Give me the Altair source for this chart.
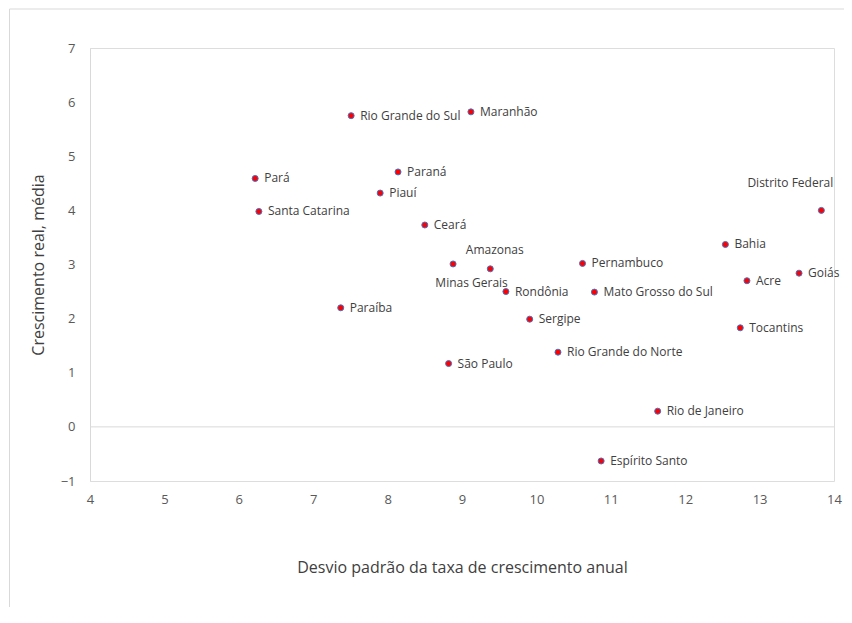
import altair as alt
import pandas as pd

estados = [
    "Rio Grande do Sul", "Maranhão", "Pará", "Paraná", "Piauí", "Santa Catarina",
    "Ceará", "Minas Gerais", "Amazonas", "Rondônia", "Paraíba", "Sergipe",
    "Bahia", "Pernambuco", "Goiás", "Acre", "Mato Grosso do Sul", "Tocantins",
    "Rio Grande do Norte", "São Paulo", "Rio de Janeiro", "Espírito Santo",
    "Distrito Federal",
]
desvio = [
    7.51, 9.12, 6.22, 8.14, 7.90, 6.27,
    8.50, 8.88, 9.38, 9.59, 7.37, 9.91,
    12.54, 10.62, 13.53, 12.83, 10.78, 12.74,
    10.29, 8.82, 11.63, 10.87,
    13.83,
]
crescimento = [
    5.75, 5.82, 4.59, 4.71, 4.32, 3.98,
    3.73, 3.01, 2.92, 2.50, 2.20, 1.99,
    3.37, 3.02, 2.84, 2.70, 2.49, 1.83,
    1.38, 1.17, 0.29, -0.63,
    4.00,
]
x_ticks = [4, 5, 6, 7, 8, 9, 10, 11, 12, 13, 14]
y_ticks = [-1, 0, 1, 2, 3, 4, 5, 6, 7]

df = pd.DataFrame({"estado": estados, "desvio": desvio, "crescimento": crescimento})

W, H = 744, 433
PAD_L = 82
FONT = "Segoe UI, Open Sans, Noto Sans, sans-serif"
GRID = "#d9d9d9"

x_enc = alt.X("desvio:Q", scale=alt.Scale(domain=[4, 14], nice=False, zero=False),
              axis=alt.Axis(values=x_ticks, title="Desvio padrão da taxa de crescimento anual",
                            domain=False, ticks=False, grid=False, labelPadding=12,
                            labelFlush=False,
                            labelFontSize=13, labelColor="#595959", labelFont=FONT,
                            titleFont=FONT, titleFontSize=16, titleFontWeight="normal",
                            titleColor="#404040", titleX=W / 2, titleY=86,
                            titleBaseline="middle", titleAlign="center"))
y_enc = alt.Y("crescimento:Q", scale=alt.Scale(domain=[-1, 7], nice=False, zero=False),
              axis=alt.Axis(values=y_ticks, title="Crescimento real, média",
                            domain=True, domainColor=GRID, domainWidth=1,
                            ticks=False, grid=False, labelPadding=15,
                            labelFlush=False,
                            labelFontSize=13, labelColor="#595959", labelFont=FONT,
                            titleFont=FONT, titleFontSize=16, titleFontWeight="normal",
                            titleColor="#404040", titleX=-52, titleY=H / 2,
                            titleAngle=-90, titleBaseline="middle", titleAlign="center"))

base = alt.Chart(df)

zero_line = alt.Chart(pd.DataFrame({"y": [0]})).mark_rule(color=GRID, strokeWidth=1).encode(
    y=alt.Y("y:Q", scale=alt.Scale(domain=[-1, 7], nice=False, zero=False)),
    x=alt.value(0), x2=alt.value(W),
)

border_top = alt.Chart(pd.DataFrame({"a": [0]})).mark_rule(color=GRID, strokeWidth=1).encode(
    x=alt.value(-PAD_L + 1.5), x2=alt.value(W + 30), y=alt.value(-39)
)
border_left = alt.Chart(pd.DataFrame({"a": [0]})).mark_rule(color=GRID, strokeWidth=1).encode(
    x=alt.value(-PAD_L + 1.5), y=alt.value(-39), y2=alt.value(H + 160)
)

points = base.mark_point(filled=True, shape="circle", size=36, fill="#ff0000",
                         stroke="#4472c4", strokeWidth=1, opacity=1).encode(x=x_enc, y=y_enc)

special = ["Amazonas", "Minas Gerais", "Distrito Federal"]
txt_kw = dict(font=FONT, fontSize=12, color="#404040", baseline="middle")

labels_right = base.transform_filter(
    ~alt.FieldOneOfPredicate(field="estado", oneOf=special)
).mark_text(align="left", dx=9, **txt_kw).encode(x=x_enc, y=y_enc, text="estado:N")

lab_am = base.transform_filter(alt.datum.estado == "Amazonas").mark_text(
    align="center", dx=4.5, dy=-19, **txt_kw).encode(x=x_enc, y=y_enc, text="estado:N")
lab_mg = base.transform_filter(alt.datum.estado == "Minas Gerais").mark_text(
    align="center", dx=18.5, dy=19, **txt_kw).encode(x=x_enc, y=y_enc, text="estado:N")
lab_df = base.transform_filter(alt.datum.estado == "Distrito Federal").mark_text(
    align="center", dx=-31, dy=-27, **txt_kw).encode(x=x_enc, y=y_enc, text="estado:N")

chart = alt.layer(
    border_top, border_left, zero_line, points, labels_right, lab_am, lab_mg, lab_df
).properties(
    width=W, height=H,
    autosize=alt.AutoSizeParams(type="none"),
    padding={"left": PAD_L, "top": 40, "right": 836 - PAD_L - W, "bottom": 126},
).configure_view(stroke=None).configure(background="white")

chart.save("out.html", embed_options={"renderer": "svg", "actions": False})
